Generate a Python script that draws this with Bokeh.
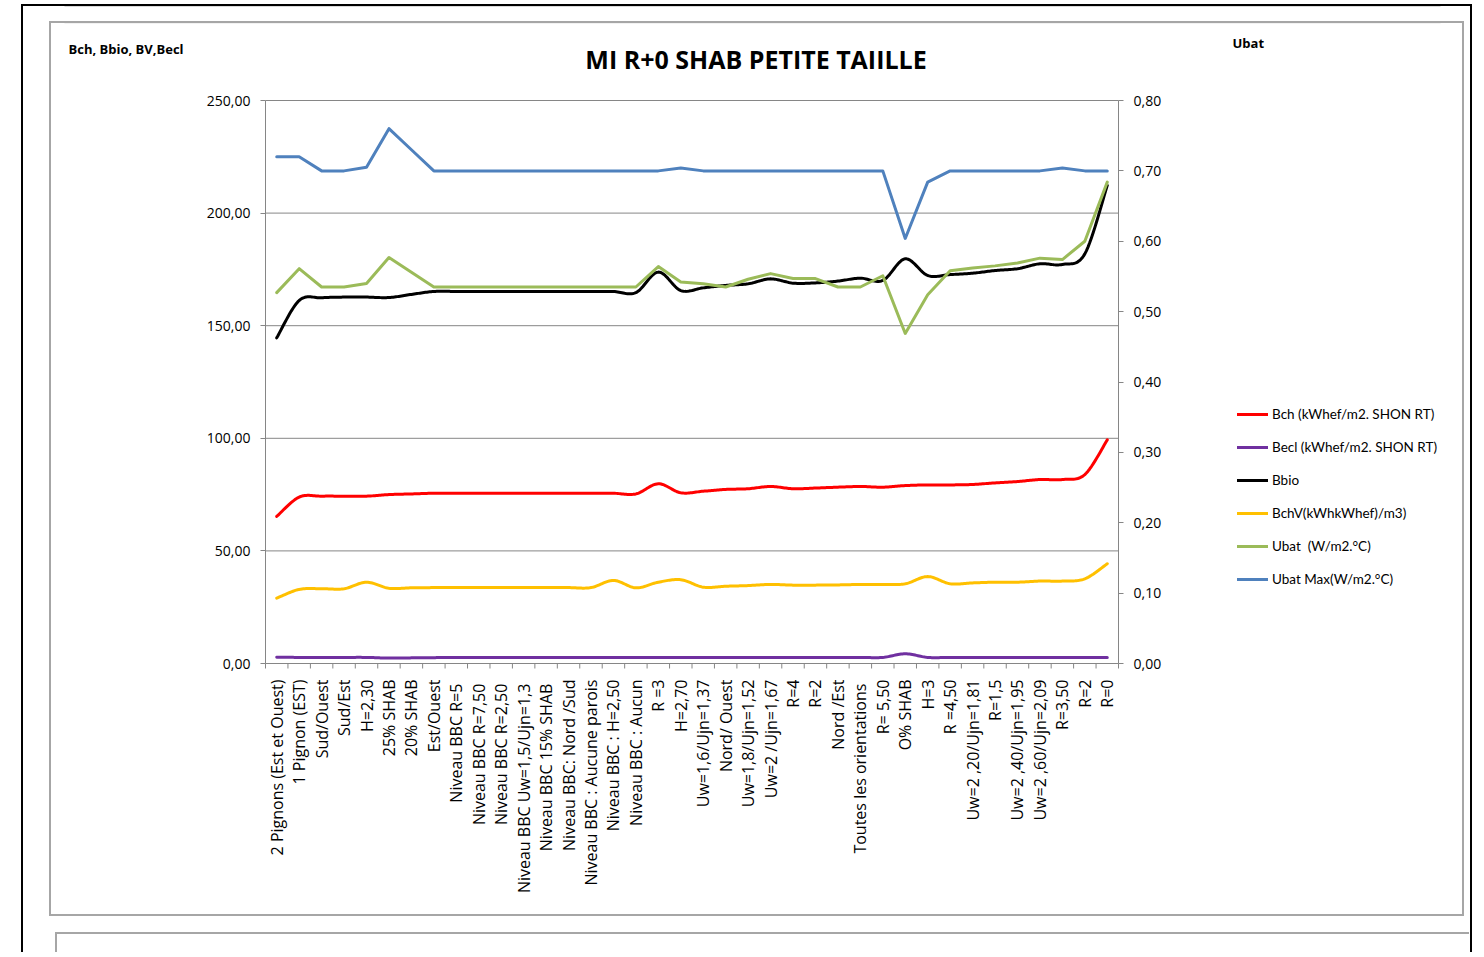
import numpy as np
from bokeh.plotting import figure
from bokeh.models import (Range1d, LinearAxis, FixedTicker, CustomJSTickFormatter,
                          Legend, LegendItem, Label, BoxAnnotation)
from bokeh.embed import file_html
from bokeh.resources import INLINE

categories = [
    "2 Pignons (Est et Ouest)", "1 Pignon (EST)", "Sud/Ouest", "Sud/Est", "H=2,30",
    "25% SHAB", "20% SHAB", "Est/Ouest", "Niveau BBC  R=5", "Niveau BBC  R=7,50",
    "Niveau BBC  R=2,50", "Niveau BBC  Uw=1,5/Ujn=1,3", "Niveau BBC  15% SHAB",
    "Niveau BBC: Nord /Sud", "Niveau BBC : Aucune parois", "Niveau BBC : H=2,50",
    "Niveau BBC : Aucun", "R =3", "H=2,70", "Uw=1,6/Ujn=1,37", "Nord/ Ouest",
    "Uw=1,8/Ujn=1,52", "Uw=2 /Ujn=1,67", "R=4", "R=2", "Nord /Est",
    "Toutes les  orientations", "R= 5,50", "O% SHAB", "H=3", "R =4,50",
    "Uw=2 ,20/Ujn=1,81", "R=1,5", "Uw=2 ,40/Ujn=1,95", "Uw=2 ,60/Ujn=2,09",
    "R=3,50", "R=2", "R=0",
]

bch = [65.3, 73.9, 74.3, 74.3, 74.3, 75.0, 75.3, 75.6, 75.6, 75.6,
       75.6, 75.6, 75.6, 75.6, 75.6, 75.6, 75.3, 79.8, 75.8, 76.5,
       77.3, 77.6, 78.6, 77.6, 77.9, 78.3, 78.6, 78.3, 79.0, 79.3,
       79.3, 79.5, 80.2, 80.8, 81.7, 81.7, 83.9, 99.3]
becl = [2.8, 2.7, 2.7, 2.7, 2.7, 2.4, 2.5, 2.6, 2.7, 2.7,
        2.7, 2.7, 2.7, 2.7, 2.7, 2.7, 2.7, 2.7, 2.7, 2.7,
        2.7, 2.7, 2.7, 2.7, 2.7, 2.7, 2.7, 2.7, 4.3, 2.7,
        2.7, 2.7, 2.7, 2.7, 2.7, 2.7, 2.7, 2.7]
bbio = [144.6, 161.2, 162.4, 162.7, 162.7, 162.5, 163.9, 165.2, 165.2, 165.2,
        165.2, 165.2, 165.2, 165.2, 165.2, 165.2, 164.7, 173.8, 165.6, 166.8,
        167.9, 168.6, 170.8, 168.9, 169.0, 169.8, 171.1, 170.1, 179.7, 172.3,
        172.7, 173.3, 174.5, 175.3, 177.5, 177.2, 181.9, 212.3]
bchv = [29.0, 32.9, 33.2, 33.2, 36.1, 33.4, 33.6, 33.7, 33.7, 33.7,
        33.7, 33.7, 33.7, 33.7, 33.7, 36.9, 33.6, 36.1, 37.2, 33.9,
        34.3, 34.6, 35.1, 34.8, 34.8, 34.9, 35.1, 35.1, 35.4, 38.6,
        35.4, 35.8, 36.1, 36.1, 36.6, 36.6, 37.6, 44.3]
ubat = [0.527, 0.561, 0.535, 0.535, 0.540, 0.577, 0.556, 0.535, 0.535, 0.535,
        0.535, 0.535, 0.535, 0.535, 0.535, 0.535, 0.535, 0.564, 0.542, 0.5395,
        0.535, 0.546, 0.554, 0.547, 0.547, 0.535, 0.535, 0.551, 0.469, 0.524,
        0.558, 0.562, 0.565, 0.569, 0.576, 0.574, 0.600, 0.684]
ubat_max = [0.72, 0.72, 0.70, 0.70, 0.705, 0.76, 0.73, 0.70, 0.70, 0.70,
            0.70, 0.70, 0.70, 0.70, 0.70, 0.70, 0.70, 0.70, 0.704, 0.70,
            0.70, 0.70, 0.70, 0.70, 0.70, 0.70, 0.70, 0.70, 0.604, 0.684,
            0.70, 0.70, 0.70, 0.70, 0.70, 0.704, 0.70, 0.70]

left_ticks = [0, 50, 100, 150, 200, 250]
right_ticks = [0, 0.1, 0.2, 0.3, 0.4, 0.5, 0.6, 0.7, 0.8]
left_max, right_max = 250, 0.8

series = [
    ("Bch (kWhef/m2. SHON RT)", bch, "#FF0000", True, "default"),
    ("Becl (kWhef/m2. SHON RT)", becl, "#7030A0", True, "default"),
    ("Bbio", bbio, "#000000", True, "default"),
    ("BchV(kWhkWhef)/m3)", bchv, "#FFC000", True, "default"),
    ("Ubat  (W/m2.°C)", ubat, "#9BBB59", False, "u"),
    ("Ubat Max(W/m2.°C)", ubat_max, "#4F81BD", False, "u"),
]


def smooth(xs, ys, n=16):
    """Excel-like smoothed line (Bezier curve through the points)."""
    xs = np.asarray(xs, float)
    ys = np.asarray(ys, float)
    ox, oy = [], []
    m = len(xs)
    for i in range(m - 1):
        i0 = max(i - 1, 0)
        i3 = min(i + 2, m - 1)
        p0 = np.array([xs[i0], ys[i0]])
        p1 = np.array([xs[i], ys[i]])
        p2 = np.array([xs[i + 1], ys[i + 1]])
        p3 = np.array([xs[i3], ys[i3]])
        c1 = p1 + (p2 - p0) / 6.0
        c2 = p2 - (p3 - p1) / 6.0
        t = np.linspace(0, 1, n, endpoint=(i == m - 2))
        b = ((1 - t) ** 3)[:, None] * p1 + (3 * (1 - t) ** 2 * t)[:, None] * c1 \
            + (3 * (1 - t) * t ** 2)[:, None] * c2 + (t ** 3)[:, None] * p2
        ox.extend(b[:, 0])
        oy.extend(b[:, 1])
    return ox, oy


# ---- layout (canvas pixels) ----
W, H = 1484, 952
FL, FR, FT, FB = 64, W - 44, 0, 673     # frame edges
PL, PR, PT, PB = 265, 1118, 100, 663    # plot area (axes) edges
FONT = "Open Sans"
GRID = "#868686"
TICK = 5

n = len(categories)
unit = (PR - PL) / n
x_start = -0.5 - (PL - FL) / unit
x_end = (n - 0.5) + (FR - PR) / unit
ppu = (PB - PT) / left_max            # pixels per left-axis unit
ppr = (PB - PT) / right_max           # pixels per right-axis unit
y_start = -(FB - PB) / ppu
y_end = left_max + (PT - FT) / ppu
u_start = -(FB - PB) / ppr
u_end = right_max + (PT - FT) / ppr

p = figure(width=W, height=H, output_backend="svg", toolbar_location=None,
           x_range=Range1d(x_start, x_end), y_range=Range1d(y_start, y_end),
           min_border_left=FL, min_border_right=W - FR, min_border_top=FT,
           min_border_bottom=H - FB, outline_line_color=None,
           background_fill_color="white", border_fill_color="white")
p.title.visible = False
p.extra_y_ranges = {"u": Range1d(u_start, u_end)}

# chart-area borders drawn around the whole figure (pure decoration)
p.stylesheets = ["""
:host { position: relative; }
:host::before { content: ''; position: absolute; z-index: 10; pointer-events: none;
  box-sizing: border-box; left: 21px; top: 4px; width: 1451px; height: 948px;
  border: 2px solid #000000; border-bottom: none;
  background-image: linear-gradient(#A6A6A6, #A6A6A6), linear-gradient(#A6A6A6, #A6A6A6);
  background-repeat: no-repeat; background-origin: border-box; background-clip: border-box;
  background-position: 34px 928px, 34px 928px;
  background-size: 1414px 2px, 2px 20px; }
:host::after { content: ''; position: absolute; z-index: 10; pointer-events: none;
  box-sizing: border-box; left: 49px; top: 21px; width: 1415px; height: 895px;
  border: 2px solid #A6A6A6; }
"""]

# x axis: category labels
xs = list(range(n))
p.xaxis.ticker = FixedTicker(ticks=xs, minor_ticks=[])
p.xaxis.formatter = CustomJSTickFormatter(
    args=dict(labels=categories),
    code="const i = Math.round(tick); return (i >= 0 && i < labels.length) ? labels[i] : '';")
p.xaxis.bounds = (-0.5, n - 0.5)
p.xaxis.major_label_orientation = np.pi / 2
p.xaxis.major_tick_out = 0
p.xaxis.major_tick_in = 0
p.xaxis.minor_tick_line_color = None
p.xaxis.axis_line_color = None
p.xaxis.major_label_standoff = 6
p.xaxis.major_label_text_font = FONT
p.xaxis.major_label_text_font_size = "16px"
p.xaxis.major_label_text_color = "#000000"

fmt_code = "return tick.toFixed(2).replace('.', ',');"

ya = p.yaxis[0]
ya.ticker = FixedTicker(ticks=left_ticks, minor_ticks=[])
ya.formatter = CustomJSTickFormatter(code=fmt_code)
ya.fixed_location = -0.5
ya.bounds = (0, left_max)
ya.axis_line_color = GRID
ya.major_tick_line_color = GRID
ya.major_tick_out = TICK
ya.major_tick_in = 0
ya.minor_tick_line_color = None
ya.major_label_standoff = 10
ya.major_label_text_font = FONT
ya.major_label_text_font_size = "14px"
ya.major_label_text_color = "#000000"

ra = LinearAxis(y_range_name="u", ticker=FixedTicker(ticks=right_ticks, minor_ticks=[]),
                formatter=CustomJSTickFormatter(code=fmt_code))
ra.fixed_location = n - 0.5
ra.bounds = (0, right_max)
ra.axis_line_color = GRID
ra.major_tick_line_color = GRID
ra.major_tick_out = TICK
ra.major_tick_in = 0
ra.minor_tick_line_color = None
ra.major_label_standoff = 10
ra.major_label_text_font = FONT
ra.major_label_text_font_size = "14px"
ra.major_label_text_color = "#000000"
p.add_layout(ra, "right")

# horizontal gridlines (incl. the category axis line at 0), limited to the plot area
p.xgrid.grid_line_color = None
p.ygrid.grid_line_color = None
gl = left_ticks
p.segment(x0=[-0.5] * len(gl), x1=[n - 0.5] * len(gl), y0=gl, y1=gl,
          line_color=GRID, line_width=1)
# category tick marks between the categories
bounds_x = [i - 0.5 for i in range(n + 1)]
p.segment(x0=bounds_x, x1=bounds_x, y0=[0] * len(bounds_x),
          y1=[-TICK / ppu] * len(bounds_x), line_color=GRID, line_width=1)

items = []
for name, vals, color, sm, rng in series:
    if sm:
        lx, ly = smooth(xs, vals)
    else:
        lx, ly = xs, vals
    r = p.line(lx, ly, line_color=color, line_width=3, y_range_name=rng,
               line_join="round", line_cap="round")
    items.append(LegendItem(label=name, renderers=[r]))

# legend: location is the box's bottom-left, relative to the frame's bottom-left
legend = Legend(items=items, location=(1237 - FL, FB - 590), orientation="vertical",
                border_line_color=None, background_fill_alpha=0,
                padding=0, margin=0, spacing=11, glyph_width=31, glyph_height=22,
                label_height=22, label_standoff=4,
                label_text_font="Lato", label_text_font_size="13.5px",
                label_text_color="#000000")
p.add_layout(legend, "center")

# texts (screen units: relative to the frame's bottom-left corner)
p.add_layout(Label(x=762 - FL, y=FB - 58, x_units="screen", y_units="screen",
                   text="MI R+0   SHAB PETITE TAIILLE", text_font=FONT,
                   text_font_style="bold", text_font_size="25px",
                   text_align="center", text_baseline="middle", text_color="#000000"))
p.add_layout(Label(x=68 - FL, y=FB - 48, x_units="screen", y_units="screen",
                   text="Bch, Bbio, BV,Becl", text_font=FONT, text_font_style="bold",
                   text_font_size="13px", text_align="left", text_baseline="middle",
                   text_color="#000000"))
p.add_layout(Label(x=1232 - FL, y=FB - 42, x_units="screen", y_units="screen",
                   text="Ubat", text_font=FONT, text_font_style="bold",
                   text_font_size="13px", text_align="left", text_baseline="middle",
                   text_color="#000000"))

# chart-area frames (canvas units; visible part inside the frame)
p.add_layout(BoxAnnotation(left=22, right=1470, top=5, bottom=1000,
                           left_units="canvas", right_units="canvas",
                           top_units="canvas", bottom_units="canvas",
                           fill_alpha=0, line_color="#000000", line_width=2))
p.add_layout(BoxAnnotation(left=49, right=1463, top=22, bottom=915,
                           left_units="canvas", right_units="canvas",
                           top_units="canvas", bottom_units="canvas",
                           fill_alpha=0, line_color="#A6A6A6", line_width=2))

open("out.html", "w").write(file_html(p, INLINE))
